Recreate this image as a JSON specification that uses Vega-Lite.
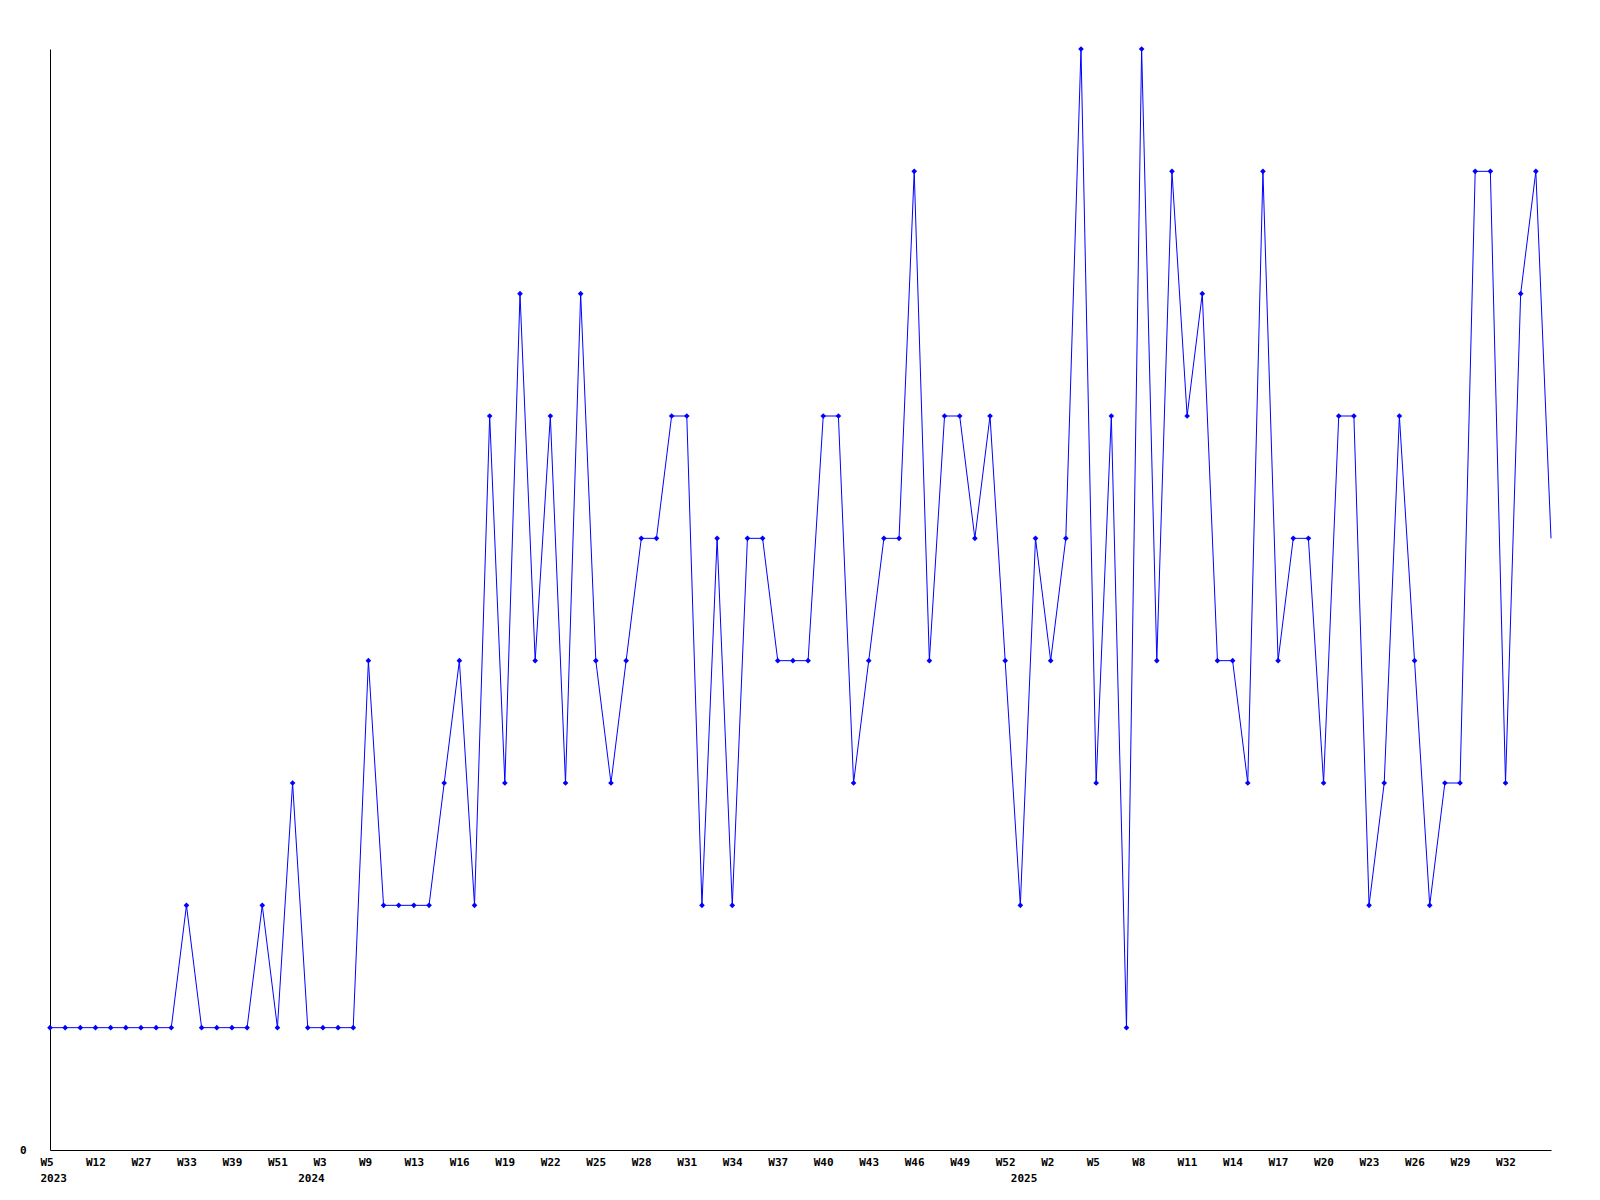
{
  "$schema": "https://vega.github.io/schema/vega-lite/v6.json",
  "autosize": "none",
  "width": 1501,
  "height": 1101,
  "padding": {"left": 50, "top": 49, "right": 49, "bottom": 50},
  "background": "white",
  "config": {
    "view": {"stroke": null},
    "axis": {"labelFont": "DejaVu Sans Mono", "labelFontWeight": "bold", "labelFontSize": 11, "labelColor": "black", "grid": false, "domainColor": "black", "domainWidth": 1, "title": null}
  },
  "data": {"values": [
    {"k":"2023-W05","v":1},{"k":"2023-W07","v":1},{"k":"2023-W09","v":1},{"k":"2023-W12","v":1},{"k":"2023-W17","v":1},
    {"k":"2023-W22","v":1},{"k":"2023-W27","v":1},{"k":"2023-W29","v":1},{"k":"2023-W31","v":1},{"k":"2023-W33","v":2},
    {"k":"2023-W35","v":1},{"k":"2023-W37","v":1},{"k":"2023-W39","v":1},{"k":"2023-W43","v":1},{"k":"2023-W47","v":2},
    {"k":"2023-W51","v":1},{"k":"2023-W52","v":3},{"k":"2024-W01","v":1},{"k":"2024-W03","v":1},{"k":"2024-W05","v":1},
    {"k":"2024-W07","v":1},{"k":"2024-W09","v":4},{"k":"2024-W11","v":2},{"k":"2024-W12","v":2},{"k":"2024-W13","v":2},
    {"k":"2024-W14","v":2},{"k":"2024-W15","v":3},{"k":"2024-W16","v":4},{"k":"2024-W17","v":2},{"k":"2024-W18","v":6},
    {"k":"2024-W19","v":3},{"k":"2024-W20","v":7},{"k":"2024-W21","v":4},{"k":"2024-W22","v":6},{"k":"2024-W23","v":3},
    {"k":"2024-W24","v":7},{"k":"2024-W25","v":4},{"k":"2024-W26","v":3},{"k":"2024-W27","v":4},{"k":"2024-W28","v":5},
    {"k":"2024-W29","v":5},{"k":"2024-W30","v":6},{"k":"2024-W31","v":6},{"k":"2024-W32","v":2},{"k":"2024-W33","v":5},
    {"k":"2024-W34","v":2},{"k":"2024-W35","v":5},{"k":"2024-W36","v":5},{"k":"2024-W37","v":4},{"k":"2024-W38","v":4},
    {"k":"2024-W39","v":4},{"k":"2024-W40","v":6},{"k":"2024-W41","v":6},{"k":"2024-W42","v":3},{"k":"2024-W43","v":4},
    {"k":"2024-W44","v":5},{"k":"2024-W45","v":5},{"k":"2024-W46","v":8},{"k":"2024-W47","v":4},{"k":"2024-W48","v":6},
    {"k":"2024-W49","v":6},{"k":"2024-W50","v":5},{"k":"2024-W51","v":6},{"k":"2024-W52","v":4},{"k":"2025-W00","v":2},
    {"k":"2025-W01","v":5},{"k":"2025-W02","v":4},{"k":"2025-W03","v":5},{"k":"2025-W04","v":9},{"k":"2025-W05","v":3},
    {"k":"2025-W06","v":6},{"k":"2025-W07","v":1},{"k":"2025-W08","v":9},{"k":"2025-W09","v":4},{"k":"2025-W10","v":8},
    {"k":"2025-W11","v":6},{"k":"2025-W12","v":7},{"k":"2025-W13","v":4},{"k":"2025-W14","v":4},{"k":"2025-W15","v":3},
    {"k":"2025-W16","v":8},{"k":"2025-W17","v":4},{"k":"2025-W18","v":5},{"k":"2025-W19","v":5},{"k":"2025-W20","v":3},
    {"k":"2025-W21","v":6},{"k":"2025-W22","v":6},{"k":"2025-W23","v":2},{"k":"2025-W24","v":3},{"k":"2025-W25","v":6},
    {"k":"2025-W26","v":4},{"k":"2025-W27","v":2},{"k":"2025-W28","v":3},{"k":"2025-W29","v":3},{"k":"2025-W30","v":8},
    {"k":"2025-W31","v":8},{"k":"2025-W32","v":3},{"k":"2025-W33","v":7},{"k":"2025-W34","v":8},{"k":"2025-W35","v":5}
  ]},
  "layer": [
    {
      "mark": {"type": "line", "color": "#0000ff", "strokeWidth": 1, "interpolate": "linear"},
      "encoding": {
        "x": {"field": "k", "type": "ordinal", "sort": null, "scale": {"type": "point", "padding": 0},
          "axis": {"orient": "bottom", "offset": 0, "ticks": false, "labelAngle": 0, "labelAlign": "left", "labelOffset": -10, "labelPadding": 6, "labelBaseline": "top",
            "values": ["2023-W05","2023-W12","2023-W27","2023-W33","2023-W39","2023-W51","2024-W03","2024-W09","2024-W13","2024-W16","2024-W19","2024-W22","2024-W25","2024-W28","2024-W31","2024-W34","2024-W37","2024-W40","2024-W43","2024-W46","2024-W49","2024-W52","2025-W02","2025-W05","2025-W08","2025-W11","2025-W14","2025-W17","2025-W20","2025-W23","2025-W26","2025-W29","2025-W32"],
            "labelExpr": "'W' + toNumber(slice(datum.value, 6))", "labelOverlap": false}},
        "y": {"field": "v", "type": "quantitative", "scale": {"domain": [0, 9], "nice": false, "zero": true},
          "axis": {"values": [0], "format": "d", "ticks": false, "labelPadding": 24, "labelBaseline": "middle"}}
      }
    },
    {
      "transform": [{"filter": "datum.k != '2025-W35'"}],
      "mark": {"type": "point", "shape": "diamond", "filled": true, "color": "#0000ff", "size": 32, "opacity": 1},
      "encoding": {
        "x": {"field": "k", "type": "ordinal", "sort": null, "scale": {"type": "point", "padding": 0},
          "axis": {"orient": "bottom", "offset": 0, "domain": false, "ticks": false, "labelAngle": 0, "labelAlign": "left", "labelOffset": -10, "labelPadding": 22, "labelBaseline": "top",
            "values": ["2023-W05","2024-W01","2025-W00"],
            "labelExpr": "slice(datum.value, 0, 4)", "labelOverlap": false}},
        "y": {"field": "v", "type": "quantitative"}
      }
    }
  ],
  "resolve": {"axis": {"x": "independent"}}
}
